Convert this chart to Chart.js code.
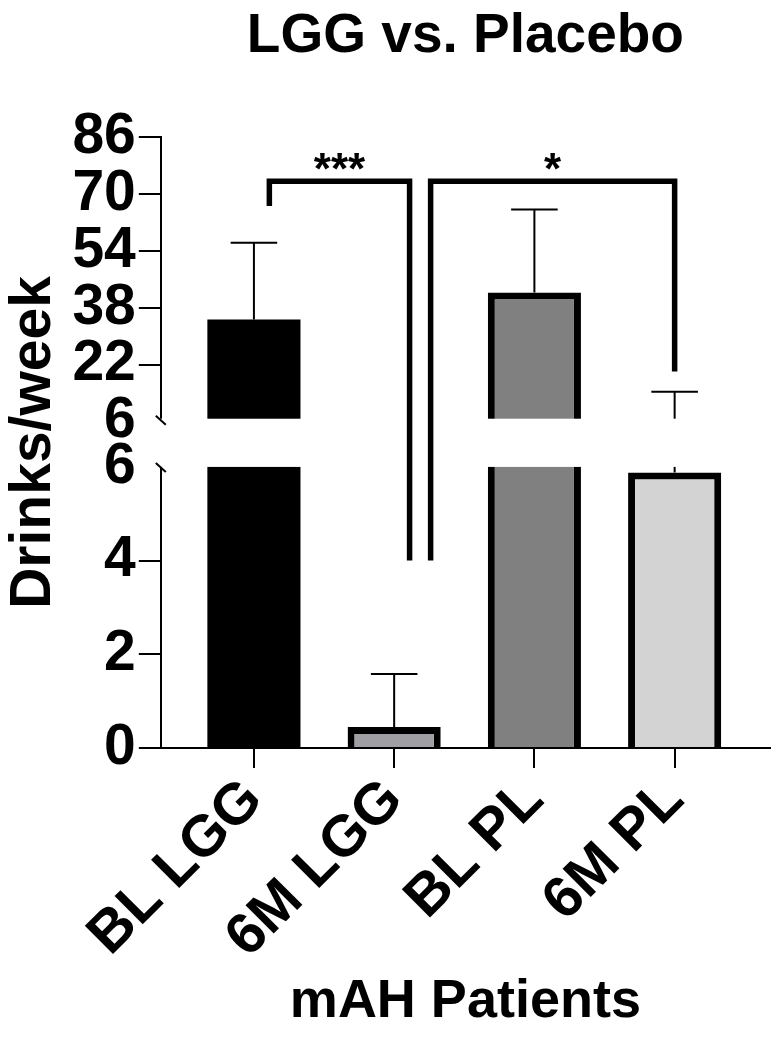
<!DOCTYPE html>
<html>
<head>
<meta charset="utf-8">
<script src="https://cdn.jsdelivr.net/npm/chart.js@4.4.1/dist/chart.umd.min.js"></script>
<style>
  html, body { margin: 0; padding: 0; background: #fff; }
  canvas { display: block; }
</style>
</head>
<body>
<canvas id="drinksChart" width="782" height="1050"></canvas>
<script>
// Data
const categories = ['BL LGG', '6M LGG', 'BL PL', '6M PL'];
const drinks = [34.7, 0.45, 42.3, 5.88];          // bar means
const sdUpper = [56.3, 1.58, 65.6, 14.4];         // top of error bars
const barColors = ['#000000', '#a0a0a4', '#808080', '#d3d3d3'];

// Broken y axis: 0-6 below the break, 6-86 above it
const BREAK_AT = 6;
const lowTicks = [0, 2, 4, 6];
const highTicks = [6, 22, 38, 54, 70, 86];

// Significance brackets (x in category units, y in data units)
const brackets = [
    { left: 0.11, right: 1.11, top: 73.6, leftEnd: 66.6, rightEnd: 4.0, label: '***' },
    { left: 1.26, right: 3.0, top: 73.6, leftEnd: 4.0, rightEnd: 20.1, label: '*' }
];

const FONT = "'Liberation Sans', Arial, sans-serif";

// Linear scale with two stacked segments and a gap between them
class BrokenLinearScale extends Chart.LinearScale {
    static id = 'brokenLinear';

    buildTicks() {
        return lowTicks.map(v => ({ value: v, seg: 0 }))
            .concat(highTicks.map(v => ({ value: v, seg: 1 })));
    }

    parts() {
        const h = this.bottom - this.top;
        const lowH = h * 0.46;
        const gapH = h * 0.074;
        return { lowH, gapH, highH: h - lowH - gapH };
    }

    segPixel(v, seg) {
        const { lowH, highH } = this.parts();
        if (seg === 0) {
            return this.bottom - (v - this.min) / (BREAK_AT - this.min) * lowH;
        }
        return this.top + (this.max - v) / (this.max - BREAK_AT) * highH;
    }

    getPixelForValue(v) {
        return this.segPixel(v, v > BREAK_AT ? 1 : 0);
    }

    getPixelForTick(i) {
        const t = this.ticks[i];
        return this.segPixel(t.value, t.seg);
    }

    getValueForPixel(p) {
        const { lowH, highH } = this.parts();
        if (p >= this.bottom - lowH) {
            return this.min + (this.bottom - p) / lowH * (BREAK_AT - this.min);
        }
        return this.max - (p - this.top) / highH * (this.max - BREAK_AT);
    }
}
Chart.register(BrokenLinearScale);

// Error bars, axis break, brackets and stars
const annotations = {
    id: 'annotations',
    afterDatasetsDraw(chart) {
        const { ctx, chartArea } = chart;
        const x = chart.scales.x;
        const y = chart.scales.y;
        const meta = chart.getDatasetMeta(0);

        ctx.save();

        // error bars (upper only)
        ctx.strokeStyle = '#000';
        ctx.lineWidth = 2;
        sdUpper.forEach((top, i) => {
            const bar = meta.data[i];
            const y0 = y.getPixelForValue(drinks[i]);
            const y1 = y.getPixelForValue(top);
            const half = bar.width * 0.25;
            ctx.beginPath();
            ctx.moveTo(bar.x, y0);
            ctx.lineTo(bar.x, y1);
            ctx.moveTo(bar.x - half, y1);
            ctx.lineTo(bar.x + half, y1);
            ctx.stroke();
        });

        // white out the gap between the two segments
        const gTop = y.segPixel(BREAK_AT, 1);
        const gBottom = y.segPixel(BREAK_AT, 0);
        ctx.fillStyle = '#fff';
        ctx.fillRect(chartArea.left - 3, gTop - 3, chartArea.right - chartArea.left + 6, gBottom - gTop + 3);

        // slanted break marks on the axis
        ctx.lineWidth = 2;
        [gTop - 2, gBottom].forEach(py => {
            ctx.beginPath();
            ctx.moveTo(chartArea.left - 5, py - 4);
            ctx.lineTo(chartArea.left + 5, py + 5);
            ctx.stroke();
        });

        // brackets
        ctx.lineWidth = 5.5;
        ctx.lineJoin = 'miter';
        ctx.lineCap = 'butt';
        ctx.fillStyle = '#000';
        ctx.font = 'bold 44px ' + FONT;
        ctx.textAlign = 'center';
        ctx.textBaseline = 'alphabetic';
        brackets.forEach(b => {
            const xl = x.getPixelForValue(b.left);
            const xr = x.getPixelForValue(b.right);
            const yt = y.getPixelForValue(b.top);
            ctx.beginPath();
            ctx.moveTo(xl, y.getPixelForValue(b.leftEnd));
            ctx.lineTo(xl, yt);
            ctx.lineTo(xr, yt);
            ctx.lineTo(xr, y.getPixelForValue(b.rightEnd));
            ctx.stroke();
            ctx.fillText(b.label, (xl + xr) / 2, yt + 3);
        });

        ctx.restore();
    }
};

new Chart(document.getElementById('drinksChart'), {
    type: 'bar',
    data: {
        datasets: [{
            data: drinks.map((v, i) => ({ x: i, y: v })),
            backgroundColor: barColors,
            borderColor: '#000',
            borderWidth: [0, 7, 7, 7],
            borderSkipped: 'start',
            categoryPercentage: 1,
            barPercentage: 0.664
        }]
    },
    options: {
        responsive: false,
        animation: false,
        layout: { padding: { left: 0, right: 12, top: 0, bottom: 0 } },
        plugins: {
            legend: { display: false },
            tooltip: { enabled: false },
            title: {
                display: true,
                text: 'LGG vs. Placebo',
                color: '#000',
                fullSize: false,
                font: { family: FONT, size: 55, weight: 'bold' },
                padding: { top: 4, bottom: 67 }
            }
        },
        scales: {
            x: {
                type: 'linear',
                min: -0.664,
                max: 3.68,
                offset: false,
                border: { color: '#000', width: 2 },
                grid: { drawOnChartArea: false, offset: false, tickLength: 20, lineWidth: 2, color: '#000' },
                ticks: {
                    stepSize: 1,
                    includeBounds: false,
                    autoSkip: false,
                    minRotation: 45,
                    maxRotation: 45,
                    padding: 2,
                    color: '#000',
                    font: { family: FONT, size: 58, weight: 'bold', lineHeight: 1 },
                    callback: v => categories[v] || ''
                },
                title: {
                    display: true,
                    text: 'mAH Patients',
                    color: '#000',
                    font: { family: FONT, size: 54, weight: 'bold' },
                    padding: { top: 0, bottom: 15 }
                }
            },
            y: {
                type: 'brokenLinear',
                min: 0,
                max: 86,
                border: { color: '#000', width: 2 },
                grid: {
                    drawOnChartArea: false,
                    tickLength: 22,
                    lineWidth: 2,
                    color: ctx => (ctx.tick && ctx.tick.value === BREAK_AT) ? 'rgba(0,0,0,0)' : '#000'
                },
                ticks: {
                    autoSkip: false,
                    padding: 3,
                    color: '#000',
                    font: { family: FONT, size: 57, weight: 'bold' },
                    callback: v => String(v)
                },
                title: {
                    display: true,
                    text: 'Drinks/week',
                    color: '#000',
                    font: { family: FONT, size: 57, weight: 'bold' },
                    padding: { top: 0, bottom: 1 }
                }
            }
        }
    },
    plugins: [annotations]
});
</script>
</body>
</html>
